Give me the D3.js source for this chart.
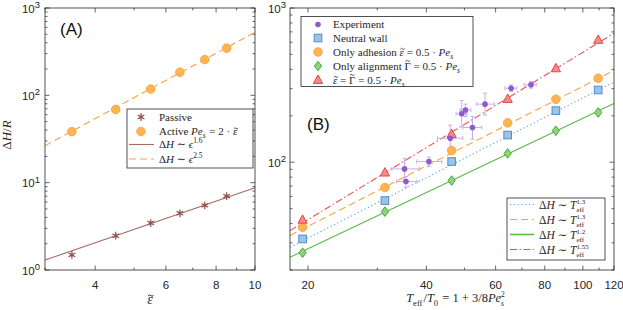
<!DOCTYPE html>
<html>
<head>
<meta charset="utf-8">
<script src="https://cdn.jsdelivr.net/npm/d3@7"></script>
<style>
  html, body { margin: 0; padding: 0; background: #fff; }
  svg { display: block; }
  .tick-label { font-family: "Liberation Sans", Arial, sans-serif; font-size: 11.5px; fill: #262626; }
  .math { font-family: "Liberation Serif", "DejaVu Serif", serif; fill: #262626; }
  .math text { white-space: pre; }
</style>
</head>
<body>
<svg id="chart" width="623" height="310"></svg>
<script>
// ---- panel A data ----
const epsVals = [3.5, 4.5, 5.5, 6.5, 7.5, 8.5];
const passiveH = [1.49, 2.47, 3.45, 4.46, 5.5, 7.0];
const activeH = [38.4, 69, 118, 184, 257, 347];
const fitEps = [3, 10];
const passiveFit = [1.30, 8.75];
const activeFit = [26.5, 527];
const epsTicks = [4, 6, 8, 10];
const epsMinor = [3, 5, 7, 9];

// ---- panel B data ----
const teffVals = [19.375, 31.375, 46.375, 64.375, 85.375, 109.375];
const neutralH = [31.8, 56.4, 101, 150, 216, 294];
const adhesionH = [37.9, 68.5, 119, 180, 256, 350];
const alignH = [25.9, 47.8, 76, 114, 160, 210];
const bothH = [42.3, 85.6, 152, 257, 406, 621];
const fitT = [18, 120];
const neutralFit = [28.1, 331];
const adhesionFit = [33.5, 394];
const alignFit = [24.2, 240];
const bothFit = [36, 685];
const teffTicks = [20, 40, 60, 80, 100, 120];
const teffMinor = [30, 50, 70, 90, 110];

// experiment points with error bars
const expT = [65.7, 73.8, 56.4, 50.3, 49.2, 52.4, 46.0, 40.6, 35.2, 35.5];
const expTlo = [63.4, 70.9, 53.7, 48.7, 47.6, 49.5, 42.7, 37.8, 32.7, 33.6];
const expThi = [67.9, 76.1, 59.5, 51.9, 50.8, 55.3, 49.5, 43.8, 38.4, 37.9];
const expH = [302, 318, 238, 218, 206, 168, 143, 101, 90.5, 74.9];
const expHlo = [287, 302, 202, 198, 170, 141, 115, 93.6, 76.8, 68.9];
const expHhi = [317, 333, 280, 238, 251, 198, 174, 108, 106, 80.7];

const col = {
  ink: '#262626',
  purple: '#8c5ccc', purpleLight: '#c7b0e8',
  blueFill: '#9cc3e8', blueEdge: '#4a8ed0', blueLine: '#5c9fe0',
  orangeFill: '#ffb454', orangeEdge: '#f7a035', orangeLine: '#ffa040',
  greenFill: '#90d478', greenEdge: '#45a83c', greenLine: '#5cba4a',
  redFill: '#f58a8a', redEdge: '#e04848', redLine: '#e85454',
  brown: '#8f5252', brownLine: '#a86a62'
};

const svg = d3.select('#chart');

// math text helper: parts are {t, i, tilde} or {sub, sup}
function drawMath(g, x, y, parts, fs, anchor) {
  const grp = g.append('g').attr('class', 'math');
  let cx = 0;
  parts.forEach(p => {
    if (p.t !== undefined) {
      const el = grp.append('text').attr('x', cx).attr('y', 0)
        .attr('font-size', fs).attr('font-style', p.i ? 'italic' : 'normal').text(p.t);
      const w = el.node().getComputedTextLength();
      if (p.tilde) {
        const mx = cx + w / 2 + (p.i ? 0.8 : 0);
        const ty = -fs * (p.tall ? 0.78 : 0.6);
        const hw = fs * 0.2;
        grp.append('path')
          .attr('d', `M${mx - hw},${ty + 0.4}Q${mx - hw / 2},${ty - 1.4} ${mx},${ty}T${mx + hw},${ty - 0.4}`)
          .attr('fill', 'none').attr('stroke', col.ink).attr('stroke-width', fs * 0.07);
      }
      cx += w + (p.gap || 0);
    } else {
      let w = 0;
      const both = p.sup && p.sub;
      const ss = fs * (both ? 0.6 : 0.68);
      if (p.sup) {
        const s = grp.append('text').attr('x', cx).attr('y', -fs * (both ? 0.4 : 0.42))
          .attr('font-size', ss).text(p.sup);
        w = Math.max(w, s.node().getComputedTextLength());
      }
      if (p.sub) {
        const s = grp.append('text').attr('x', cx).attr('y', fs * 0.28)
          .attr('font-size', ss).attr('font-style', p.subI ? 'italic' : 'normal').text(p.sub);
        w = Math.max(w, s.node().getComputedTextLength());
      }
      cx += w + 1;
    }
  });
  const dx = anchor === 'middle' ? -cx / 2 : anchor === 'end' ? -cx : 0;
  grp.attr('transform', `translate(${x + dx},${y})`);
  return grp;
}

function powLabel(g, x, y, exp) {
  const t = g.append('text').attr('class', 'tick-label').attr('x', x).attr('y', y)
    .attr('text-anchor', 'end');
  t.append('tspan').text('10');
  t.append('tspan').attr('dy', -4.5).attr('font-size', '9.5px').text(exp);
}

// frame + ticks for a log/log panel
function drawFrame(g, x, y, xMajor, xMinor, yMajor, yMinor) {
  const [x0, x1] = x.range();
  const [y0, y1] = y.range();
  const tk = g.append('g').attr('stroke', col.ink).attr('stroke-width', 0.7);
  const len = (m) => m ? 4.5 : 2.5;
  [[xMajor, true], [xMinor, false]].forEach(([arr, major]) => {
    arr.forEach(v => {
      const px = x(v);
      tk.append('line').attr('x1', px).attr('x2', px).attr('y1', y0).attr('y2', y0 - len(major));
      tk.append('line').attr('x1', px).attr('x2', px).attr('y1', y1).attr('y2', y1 + len(major));
    });
  });
  [[yMajor, true], [yMinor, false]].forEach(([arr, major]) => {
    arr.forEach(v => {
      const py = y(v);
      tk.append('line').attr('x1', x0).attr('x2', x0 + len(major)).attr('y1', py).attr('y2', py);
      tk.append('line').attr('x1', x1).attr('x2', x1 - len(major)).attr('y1', py).attr('y2', py);
    });
  });
  g.append('rect').attr('x', x0).attr('y', y1).attr('width', x1 - x0).attr('height', y0 - y1)
    .attr('fill', 'none').attr('stroke', col.ink).attr('stroke-width', 0.8);
}

function minorDecades(lo, hi) {
  const out = [];
  for (let d = lo; d < hi; d *= 10) for (let k = 2; k <= 9; k++) out.push(k * d);
  return out;
}

// marker drawing
function marker(g, type, cx, cy) {
  if (type === 'star') {
    g.append('circle').attr('cx', cx).attr('cy', cy).attr('r', 2.2).attr('fill', '#d9b3b3').attr('opacity', 0.8);
    g.append('path').attr('d', d3.symbol(d3.symbolAsterisk, 42)())
      .attr('transform', `translate(${cx},${cy})`)
      .attr('fill', 'none').attr('stroke', col.brown).attr('stroke-width', 1.2);
  } else if (type === 'circle') {
    g.append('circle').attr('cx', cx).attr('cy', cy).attr('r', 4.3)
      .attr('fill', col.orangeFill).attr('stroke', col.orangeEdge).attr('stroke-width', 0.8);
  } else if (type === 'square') {
    g.append('rect').attr('x', cx - 3.8).attr('y', cy - 3.8).attr('width', 7.6).attr('height', 7.6)
      .attr('fill', col.blueFill).attr('stroke', col.blueEdge).attr('stroke-width', 1);
  } else if (type === 'diamond') {
    g.append('path').attr('d', `M${cx},${cy - 4.8}L${cx + 3.6},${cy}L${cx},${cy + 4.8}L${cx - 3.6},${cy}Z`)
      .attr('fill', col.greenFill).attr('stroke', col.greenEdge).attr('stroke-width', 1);
  } else if (type === 'triangle') {
    g.append('path').attr('d', `M${cx},${cy - 5}L${cx + 4.6},${cy + 3.4}L${cx - 4.6},${cy + 3.4}Z`)
      .attr('fill', col.redFill).attr('stroke', col.redEdge).attr('stroke-width', 1);
  } else if (type === 'dot') {
    g.append('circle').attr('cx', cx).attr('cy', cy).attr('r', 2.8).attr('fill', col.purple);
  }
}

const epsT = { t: 'ε', i: true, tilde: true };
const gamT = { t: 'Γ', tilde: true, tall: true };
const PeS = [{ t: 'Pe', i: true }, { sub: 's', subI: true }];

// =================== panel A ===================
const xA = d3.scaleLog().domain([3, 10]).range([45, 255]);
const yA = d3.scaleLog().domain([1, 1000]).range([270, 8]);
const gA = svg.append('g');

const fitLine = (x, y) => d3.line().x(d => x(d[0])).y(d => y(d[1]));
gA.append('path').datum(d3.zip(fitEps, passiveFit)).attr('d', fitLine(xA, yA))
  .attr('fill', 'none').attr('stroke', col.brownLine).attr('stroke-width', 1.1);
gA.append('path').datum(d3.zip(fitEps, activeFit)).attr('d', fitLine(xA, yA))
  .attr('fill', 'none').attr('stroke', col.orangeLine).attr('stroke-width', 1.1).attr('stroke-dasharray', '7,4');

epsVals.forEach((e, i) => marker(gA, 'star', xA(e), yA(passiveH[i])));
epsVals.forEach((e, i) => marker(gA, 'circle', xA(e), yA(activeH[i])));

drawFrame(gA, xA, yA, epsTicks, epsMinor, [1, 10, 100, 1000], minorDecades(1, 1000));
epsTicks.forEach(v => gA.append('text').attr('class', 'tick-label').attr('x', xA(v)).attr('y', 289)
  .attr('text-anchor', 'middle').text(v));
[0, 1, 2, 3].forEach(e => powLabel(gA, 40, yA(Math.pow(10, e)) + 4.5, e));

gA.append('text').attr('x', 60).attr('y', 35).attr('font-family', 'Liberation Sans, Arial, sans-serif')
  .attr('font-size', 17).attr('fill', '#111').text('(A)');

// y label
const yl = svg.append('g').attr('transform', 'translate(11,135) rotate(-90)');
drawMath(yl, 0, 0, [{ t: 'Δ' }, { t: 'H', i: true }, { t: '/' }, { t: 'R', i: true }], 13, 'middle');
// x label A
drawMath(svg, 150, 304, [epsT], 14, 'middle');

// legend A
const lgA = gA.append('g');
lgA.append('rect').attr('x', 127).attr('y', 109).attr('width', 126).attr('height', 59)
  .attr('fill', '#fff').attr('stroke', col.ink).attr('stroke-width', 0.8);
marker(lgA, 'star', 141, 117);
marker(lgA, 'circle', 141, 131.5);
lgA.append('line').attr('x1', 129).attr('x2', 154).attr('y1', 144.5).attr('y2', 144.5)
  .attr('stroke', col.brownLine).attr('stroke-width', 1.1);
lgA.append('line').attr('x1', 129).attr('x2', 154).attr('y1', 159).attr('y2', 159)
  .attr('stroke', col.orangeLine).attr('stroke-width', 1.1).attr('stroke-dasharray', '7,4');
const fsA = 11;
drawMath(lgA, 159, 120.5, [{ t: 'Passive' }], fsA);
drawMath(lgA, 159, 135, [{ t: 'Active ' }, ...PeS, { t: ' = 2 · ' }, epsT], fsA);
drawMath(lgA, 159, 148, [{ t: 'Δ' }, { t: 'H', i: true }, { t: ' ∼ ' }, { t: 'ϵ', i: true }, { sup: '1.6' }], fsA);
drawMath(lgA, 159, 163, [{ t: 'Δ' }, { t: 'H', i: true }, { t: ' ∼ ' }, { t: 'ϵ', i: true }, { sup: '2.5' }], fsA);

// =================== panel B ===================
const xB = d3.scaleLog().domain([18, 120]).range([290, 614]);
const yB = d3.scaleLog().domain([20, 1000]).range([270, 8]);
const gB = svg.append('g');

const fitsB = [
  { v: neutralFit, c: col.blueLine, dash: '1.2,2.6' },
  { v: adhesionFit, c: col.orangeLine, dash: '7,4' },
  { v: alignFit, c: col.greenLine, dash: null },
  { v: bothFit, c: col.redLine, dash: '7,2.5,1.5,2.5' }
];
fitsB.forEach(f => {
  gB.append('path').datum(d3.zip(fitT, f.v)).attr('d', fitLine(xB, yB))
    .attr('fill', 'none').attr('stroke', f.c).attr('stroke-width', 1.1)
    .attr('stroke-dasharray', f.dash);
});

// error bars
const eb = gB.append('g').attr('stroke', col.purpleLight).attr('stroke-width', 1);
expT.forEach((t, i) => {
  const px = xB(t), py = yB(expH[i]);
  eb.append('line').attr('x1', xB(expTlo[i])).attr('x2', xB(expThi[i])).attr('y1', py).attr('y2', py);
  eb.append('line').attr('x1', px).attr('x2', px).attr('y1', yB(expHlo[i])).attr('y2', yB(expHhi[i]));
  eb.append('line').attr('x1', xB(expTlo[i])).attr('x2', xB(expTlo[i])).attr('y1', py - 2).attr('y2', py + 2);
  eb.append('line').attr('x1', xB(expThi[i])).attr('x2', xB(expThi[i])).attr('y1', py - 2).attr('y2', py + 2);
  eb.append('line').attr('x1', px - 2).attr('x2', px + 2).attr('y1', yB(expHlo[i])).attr('y2', yB(expHlo[i]));
  eb.append('line').attr('x1', px - 2).attr('x2', px + 2).attr('y1', yB(expHhi[i])).attr('y2', yB(expHhi[i]));
});

teffVals.forEach((t, i) => marker(gB, 'square', xB(t), yB(neutralH[i])));
teffVals.forEach((t, i) => marker(gB, 'circle', xB(t), yB(adhesionH[i])));
teffVals.forEach((t, i) => marker(gB, 'diamond', xB(t), yB(alignH[i])));
teffVals.forEach((t, i) => marker(gB, 'triangle', xB(t), yB(bothH[i])));
expT.forEach((t, i) => marker(gB, 'dot', xB(t), yB(expH[i])));

drawFrame(gB, xB, yB, teffTicks, teffMinor, [100, 1000], minorDecades(10, 1000).filter(v => v >= 20 && v < 1000));
teffTicks.forEach(v => gB.append('text').attr('class', 'tick-label').attr('x', xB(v)).attr('y', 289)
  .attr('text-anchor', 'middle').text(v));
[2, 3].forEach(e => powLabel(gB, 286, yB(Math.pow(10, e)) + 4.5, e));

gB.append('text').attr('x', 307).attr('y', 130).attr('font-family', 'Liberation Sans, Arial, sans-serif')
  .attr('font-size', 17).attr('fill', '#111').text('(B)');

// x label B
drawMath(svg, 456, 302, [{ t: 'T', i: true }, { sub: 'eff' }, { t: '/' }, { t: 'T', i: true }, { sub: '0' },
  { t: ' = 1 + 3/8' }, { t: 'Pe', i: true }, { sub: 's', subI: true, sup: '2' }], 12.5, 'middle');

// legend B (markers)
const lgB = gB.append('g');
lgB.append('rect').attr('x', 301).attr('y', 16.5).attr('width', 172).attr('height', 70)
  .attr('fill', '#fff').attr('stroke', col.ink).attr('stroke-width', 0.8);
const rowsB = [24.5, 38, 52, 66, 80];
marker(lgB, 'dot', 318, rowsB[0]);
marker(lgB, 'square', 318, rowsB[1]);
marker(lgB, 'circle', 318, rowsB[2]);
marker(lgB, 'diamond', 318, rowsB[3]);
marker(lgB, 'triangle', 318, rowsB[4]);
const tx = 333, fsB = 11;
drawMath(lgB, tx, rowsB[0] + 3.5, [{ t: 'Experiment' }], fsB);
drawMath(lgB, tx, rowsB[1] + 3.5, [{ t: 'Neutral wall' }], fsB);
drawMath(lgB, tx, rowsB[2] + 3.5, [{ t: 'Only adhesion ' }, epsT, { t: ' = 0.5 · ' }, ...PeS], fsB);
drawMath(lgB, tx, rowsB[3] + 3.5, [{ t: 'Only alignment ' }, gamT, { t: ' = 0.5 · ' }, ...PeS], fsB);
drawMath(lgB, tx, rowsB[4] + 3.5, [epsT, { t: ' = ' }, gamT, { t: ' = 0.5 · ' }, ...PeS], fsB);

// legend B (fit lines)
const lgC = gB.append('g');
lgC.append('rect').attr('x', 507).attr('y', 198).attr('width', 98).attr('height', 62)
  .attr('fill', '#fff').attr('stroke', col.ink).attr('stroke-width', 0.8);
const rowsC = [204.5, 219.5, 234.5, 249.5];
const expsC = ['1.3', '1.3', '1.2', '1.55'];
fitsB.forEach((f, i) => {
  lgC.append('line').attr('x1', 510).attr('x2', 534).attr('y1', rowsC[i]).attr('y2', rowsC[i])
    .attr('stroke', f.c).attr('stroke-width', i === 2 ? 1.6 : 1.1).attr('stroke-dasharray', f.dash);
  drawMath(lgC, 539, rowsC[i] + 4, [{ t: 'Δ' }, { t: 'H', i: true }, { t: ' ∼ ' }, { t: 'T', i: true },
    { sub: 'eff', sup: expsC[i] }], 11.5);
});
</script>
</body>
</html>
